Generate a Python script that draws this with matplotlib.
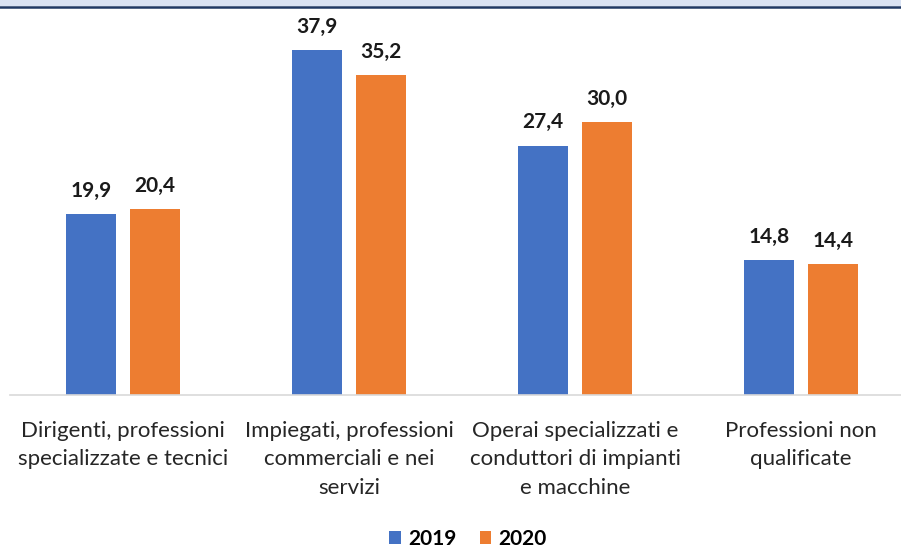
import matplotlib
matplotlib.use("Agg")
import matplotlib.pyplot as plt
import numpy as np
from matplotlib.patches import Rectangle
from matplotlib.lines import Line2D

categories = ["Dirigenti, professioni\nspecializzate e tecnici",
              "Impiegati, professioni\ncommerciali e nei\nservizi",
              "Operai specializzati e\nconduttori di impianti\ne macchine",
              "Professioni non\nqualificate"]
v2019 = [19.9, 37.9, 27.4, 14.8]
v2020 = [20.4, 35.2, 30.0, 14.4]
series_names = ["2019", "2020"]

W, H = 901, 549
fig = plt.figure(figsize=(W/100, H/100), dpi=100)
plt.rcParams['font.family'] = ['Lato', 'DejaVu Sans']

# top band
fig.patches.append(Rectangle((0, 1 - 6/H), 1, 6/H, transform=fig.transFigure,
                             facecolor="#D9E2F3", edgecolor="none", zorder=0))
fig.lines.append(Line2D([0, 1], [1 - 6.5/H, 1 - 6.5/H], transform=fig.transFigure,
                        color="#1F3864", lw=1.8))

left = 10/W
width = 904/W
bottom = 1 - 395/H
top = 1 - 8/H
ax = fig.add_axes([left, bottom, width, top - bottom])
ax.set_xlim(-0.5, 3.5)
ax.set_ylim(0, (395-8)/9.1)

x = np.arange(len(categories))
bw = 0.221
off = 0.1416
b1 = ax.bar(x - off, v2019, bw, color="#4472C4", label=series_names[0])
b2 = ax.bar(x + off, v2020, bw, color="#ED7D31", label=series_names[1])

for bars, vals in ((b1, v2019), (b2, v2020)):
    for r, v in zip(bars, vals):
        ax.annotate(f"{v:.1f}".replace(".", ","), (r.get_x() + r.get_width()/2, v),
                    xytext=(0, 9.5), textcoords="offset points", ha="center", va="bottom",
                    fontsize=15, fontweight="bold", color="#1a1a1a")

for s in ["top", "right", "left"]:
    ax.spines[s].set_visible(False)
ax.spines["bottom"].set_color("#D9D9D9")
ax.spines["bottom"].set_linewidth(1.2)
ax.set_yticks([])
ax.set_xticks(x)
ax.set_xticklabels(categories, fontsize=16, color="#262626", linespacing=1.55)
ax.tick_params(axis="x", length=0, pad=18.5)

leg = fig.legend(handles=[b1, b2], labels=series_names, loc="center",
                 bbox_to_anchor=(468/W, 1 - 539/H), ncol=2, frameon=False,
                 prop={"size": 15, "weight": "bold"}, handlelength=0.55, handleheight=0.55,
                 handletextpad=0.35, columnspacing=1.1)

fig.savefig("out.png", dpi=100)
